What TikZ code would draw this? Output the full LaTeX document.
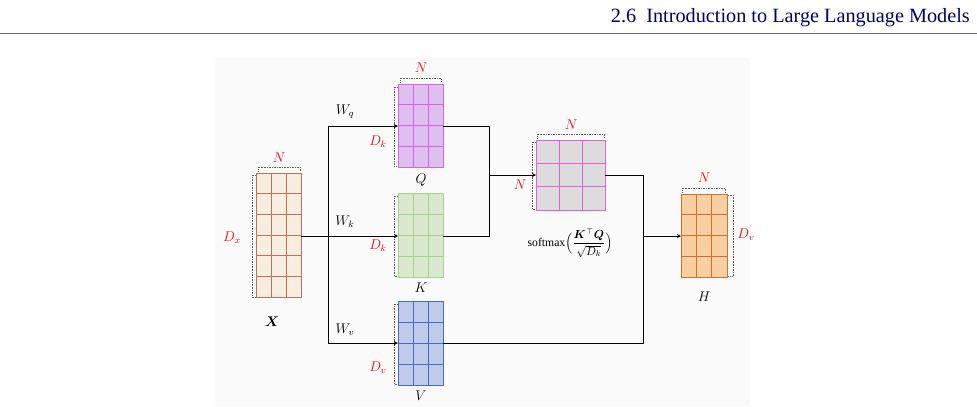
\documentclass[tikz,border=0pt]{standalone}
\usepackage{amsmath,bm}
\usepackage{fontspec}
\setmainfont{Liberation Serif}
\newcommand{\mymat}[9]{%
  \node[rectangle,inner sep=0,outer sep=0,fill=#8,minimum width={(#4-#2)*0.03cm},minimum height={(#5-#3)*0.03cm}] (#1) at ({(#2+#4)/2},{(#3+#5)/2}) {};
  \foreach \i in {2,...,#6}{\draw[#9,line width=0.6pt] ({#2+(\i-1)*(#4-#2)/#6},#3) -- ({#2+(\i-1)*(#4-#2)/#6},#5);}
  \foreach \j in {2,...,#7}{\draw[#9,line width=0.6pt] (#2,{#3+(\j-1)*(#5-#3)/#7}) -- (#4,{#3+(\j-1)*(#5-#3)/#7});}
  \draw[#9,line width=0.6pt] (#2,#3) rectangle (#4,#5);}
\begin{document}
\begin{tikzpicture}[x=0.03cm,y=-0.03cm,
  lab/.style={text=red,font=\large,inner sep=1pt},
  txt/.style={font=\large,inner sep=1pt},
  conn/.style={line width=0.6pt},
  arr/.style={conn,-stealth},
  dotb/.style={densely dotted,gray!70!black,line width=0.4pt}]
\useasboundingbox (0,0) rectangle (977,406);
\fill[gray!4] (215,58) rectangle (750,406);
\node[anchor=base east,text=blue!45!black,font=\LARGE,inner sep=0] (hdr) at (970,22) {2.6\ \ Introduction to Large Language Models};
\draw[blue!50!black!60,line width=0.5pt] (0,33) -- (977,33);
\definecolor{xf}{HTML}{F7EEDF}\definecolor{xl}{HTML}{C0715A}
\definecolor{qf}{HTML}{DCC0F0}\definecolor{ql}{HTML}{E060E0}
\definecolor{kf}{HTML}{DBE8D0}\definecolor{kl}{HTML}{A8D090}
\definecolor{vf}{HTML}{C0CBEA}\definecolor{vl}{HTML}{4A6AC0}
\definecolor{sf}{HTML}{DCDCDC}
\definecolor{hf}{HTML}{F8CFA0}\definecolor{hl}{HTML}{D07030}
\mymat{X}{256}{173}{301}{297}{3}{6}{xf}{xl}
\mymat{Q}{398}{84}{443}{167}{3}{4}{qf}{ql}
\mymat{K}{398}{193}{443}{277}{3}{4}{kf}{kl}
\mymat{V}{398}{301}{443}{385}{3}{4}{vf}{vl}
\mymat{S}{536}{140}{605}{210}{3}{3}{sf}{ql}
\mymat{H}{681}{194}{727}{277}{3}{4}{hf}{hl}
% dotted brackets
\draw[dotb] (258,171) -- (258,167) -- (300,167) -- (300,171);
\draw[dotb] (255,175) -- (252,175) -- (252,297) -- (255,297);
\draw[dotb] (400,82) -- (400,78) -- (441,78) -- (441,82);
\draw[dotb] (397,87) -- (394,87) -- (394,166) -- (397,166);
\draw[dotb] (397,196) -- (394,196) -- (394,276) -- (397,276);
\draw[dotb] (397,304) -- (394,304) -- (394,384) -- (397,384);
\draw[dotb] (537,138) -- (537,134) -- (604,134) -- (604,138);
\draw[dotb] (535,142) -- (532,142) -- (532,209) -- (535,209);
\draw[dotb] (682,192) -- (682,188) -- (725,188) -- (725,192);
\draw[dotb] (728,195) -- (733,195) -- (733,276) -- (728,276);
% labels
\node[lab] (nX) at (279,158) {$N$};
\node[lab] (dX) at (232,238) {$D_x$};
\node[txt] (lX) at (272,322) {$\bm{X}$};
\node[lab] (nQ) at (421,68) {$N$};
\node[lab] (dQ) at (378,142) {$D_k$};
\node[txt] (lQ) at (421,180) {$Q$};
\node[lab] (dK) at (378,246) {$D_k$};
\node[txt] (lK) at (421,288) {$K$};
\node[lab] (dV) at (378,368) {$D_v$};
\node[txt] (lV) at (421,396) {$V$};
\node[lab] (nS) at (571,125) {$N$};
\node[lab] (dS) at (520,185) {$N$};
\node[font=\normalsize,inner sep=1pt] (lS) at (570,243) {softmax$\Bigl(\dfrac{\bm{K}^{\top}\bm{Q}}{\sqrt{D_k}}\Bigr)$};
\node[lab] (nH) at (704,178) {$N$};
\node[lab] (dH) at (746,235) {$D_v$};
\node[txt] (lH) at (704,297) {$H$};
\node[txt] (wq) at (345,112) {$W_{q}$};
\node[txt] (wk) at (345,222) {$W_{k}$};
\node[txt] (wv) at (345,330) {$W_{v}$};
% connectors
\coordinate (b0) at (328,236);
\coordinate (b1) at (328,126);
\coordinate (b2) at (328,343);
\coordinate (m1) at (489,126);
\coordinate (m2) at (489,236);
\coordinate (m3) at (489,175);
\coordinate (r1) at (643,175);
\coordinate (r2) at (643,343);
\coordinate (r3) at (643,236);
\draw[conn] (X.east |- b0) -- (b0);
\draw[conn] (b1) -- (b2);
\draw[arr] (b1) -- (Q.west |- b1);
\draw[arr] (b0) -- (K.west |- b0);
\draw[arr] (b2) -- (V.west |- b2);
\draw[conn] (Q.east |- m1) -- (m1) -- (m2) -- (K.east |- m2);
\draw[arr] (m3) -- (S.west |- m3);
\draw[conn] (S.east |- r1) -- (r1) -- (r2) -- (V.east |- r2);
\draw[arr] (r3) -- (H.west |- r3);
\end{tikzpicture}
\end{document}
